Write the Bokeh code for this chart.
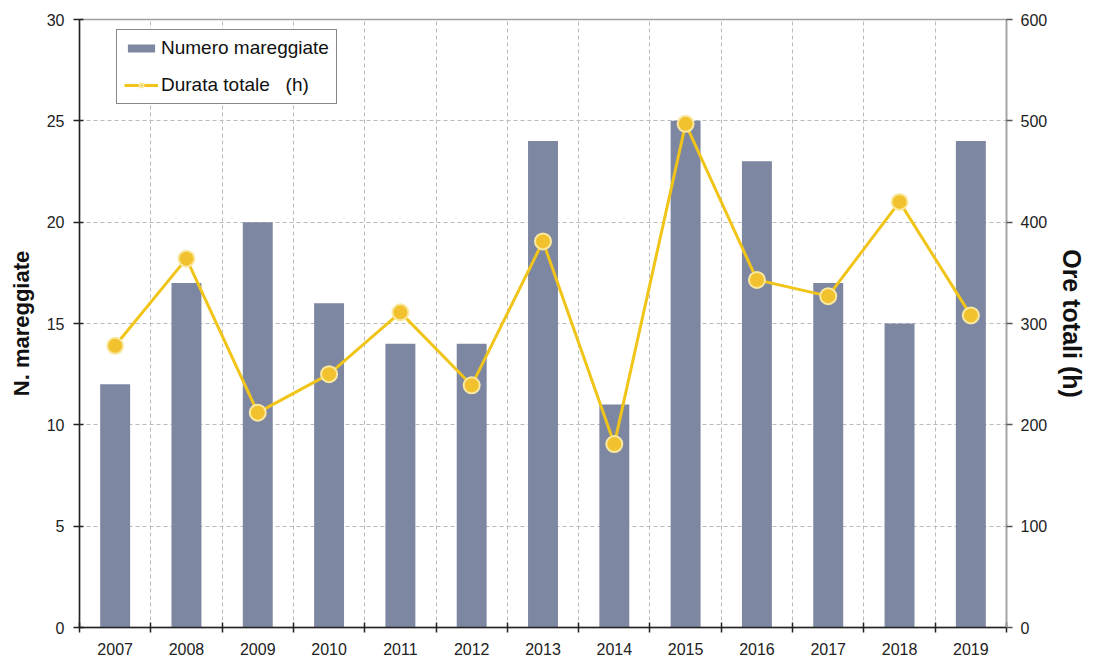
from bokeh.plotting import figure
from bokeh.models import (Range1d, LinearAxis, FixedTicker, Legend, LegendItem,
                          ColumnDataSource)
from bokeh.embed import file_html
from bokeh.resources import INLINE

years = ["2007", "2008", "2009", "2010", "2011", "2012", "2013",
         "2014", "2015", "2016", "2017", "2018", "2019"]
num_mareggiate = [12, 17, 20, 16, 14, 14, 24, 11, 25, 23, 17, 15, 24]
durata_ore = [278, 364, 212, 250, 311, 239, 381, 181, 497, 343, 327, 420, 308]
left_ticks = [0, 5, 10, 15, 20, 25, 30]
right_ticks = [0, 100, 200, 300, 400, 500, 600]

idx = list(range(len(years)))
src = ColumnDataSource(dict(x=idx, n=num_mareggiate, h=durata_ore))

FONT = "Liberation Sans"
BAR = "#7E87A1"
LINE = "#F0C419"

p = figure(width=1089, height=657, output_backend="svg", toolbar_location=None,
           x_range=Range1d(-0.5, len(years) - 0.5), y_range=Range1d(0, 30),
           min_border_left=79, min_border_right=80, min_border_top=19,
           min_border_bottom=30)
p.extra_y_ranges = {"right": Range1d(0, 600)}

p.outline_line_color = "#A0A0A0"
p.outline_line_width = 1.5
p.background_fill_color = "white"
p.border_fill_color = "white"

bars = p.vbar(x="x", top="n", width=0.42, source=src, fill_color=BAR,
              line_color=None)
ln = p.line(x="x", y="h", source=src, y_range_name="right", line_color=LINE,
            line_width=3)
pts = p.scatter(x="x", y="h", source=src, y_range_name="right", size=16,
                fill_color="#F2C12E", line_color="#F9E8A0", line_width=2)

# x axis
boundaries = [i + 0.5 for i in idx[:-1]]
xa = p.xaxis[0]
xa.ticker = FixedTicker(ticks=idx, minor_ticks=[-0.5] + boundaries + [len(years) - 0.5])
xa.major_label_overrides = {i: y for i, y in zip(idx, years)}
xa.major_tick_out = 0
xa.major_tick_in = 0
xa.minor_tick_out = 5
xa.minor_tick_in = 5
xa.minor_tick_line_color = "#222222"
xa.minor_tick_line_width = 1.5
xa.axis_line_color = "#222222"
xa.axis_line_width = 1.5
xa.major_label_standoff = 10
xa.major_label_text_font = FONT
xa.major_label_text_font_size = "16px"
xa.major_label_text_color = "#222222"

# left axis
ya = p.yaxis[0]
ya.ticker = FixedTicker(ticks=left_ticks)
ya.minor_tick_line_color = None
ya.major_tick_out = 6
ya.major_tick_in = 4
ya.major_tick_line_color = "#222222"
ya.major_tick_line_width = 1.5
ya.axis_line_color = "#222222"
ya.axis_line_width = 1.5
ya.major_label_standoff = 9
ya.major_label_text_font = FONT
ya.major_label_text_font_size = "16px"
ya.major_label_text_color = "#222222"
ya.axis_label = "N. mareggiate"
ya.axis_label_text_font = FONT
ya.axis_label_text_font_style = "bold"
ya.axis_label_text_font_size = "22px"
ya.axis_label_text_color = "#111111"
ya.axis_label_standoff = 10

# right axis
ra = LinearAxis(y_range_name="right", ticker=FixedTicker(ticks=right_ticks))
ra.minor_tick_line_color = None
ra.major_tick_out = 6
ra.major_tick_in = 0
ra.major_tick_line_color = "#555555"
ra.major_tick_line_width = 1.5
ra.axis_line_color = "#A0A0A0"
ra.axis_line_width = 1.5
ra.major_label_standoff = 8
ra.major_label_text_font = FONT
ra.major_label_text_font_size = "16px"
ra.major_label_text_color = "#222222"
ra.axis_label = "Ore totali (h)"
ra.axis_label_text_font = FONT
ra.axis_label_text_font_style = "bold"
ra.axis_label_text_font_size = "25px"
ra.axis_label_text_color = "#111111"
ra.axis_label_standoff = 8
p.add_layout(ra, "right")

# grids
p.ygrid.ticker = FixedTicker(ticks=left_ticks[1:-1])
p.ygrid.grid_line_color = "#BBBBBB"
p.ygrid.grid_line_dash = "4 3"
p.ygrid.grid_line_width = 1
p.xgrid.ticker = FixedTicker(ticks=boundaries)
p.xgrid.grid_line_color = "#BBBBBB"
p.xgrid.grid_line_dash = "4 3"
p.xgrid.grid_line_width = 1

legend = Legend(items=[LegendItem(label="Numero mareggiate", renderers=[bars]),
                       LegendItem(label="Durata totale   (h)", renderers=[ln, pts])],
                location=(37, 523))
legend.border_line_color = "#111111"
legend.border_line_width = 1.5
legend.label_text_font = FONT
legend.label_text_font_size = "19px"
legend.label_text_color = "#111111"
legend.label_height = 22
legend.glyph_width = 34
legend.glyph_height = 10
legend.spacing = 15
legend.padding = 7
legend.margin = 0
legend.label_standoff = 3
p.add_layout(legend, "center")

open("out.html", "w").write(file_html(p, INLINE))
